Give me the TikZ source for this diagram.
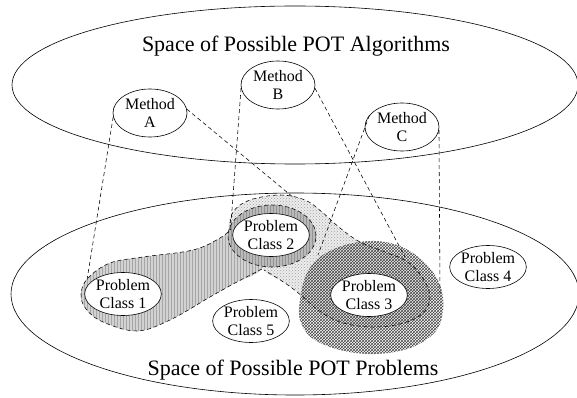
\documentclass[tikz,border=0pt]{standalone}
\usepackage{fontspec}
\setmainfont{Liberation Serif}
\usetikzlibrary{shapes.geometric,patterns}
\begin{document}
\begin{tikzpicture}[x=1pt,y=-1pt,
  outline/.style={draw=black,line width=0.6pt},
  dashline/.style={draw=black,line width=0.55pt,dash pattern=on 4pt off 3pt},
  methodnode/.style={ellipse,outline,fill=white,inner sep=0pt,minimum width=74pt,minimum height=48pt,align=center,font=\fontsize{16}{18}\selectfont},
  classnode/.style={ellipse,outline,fill=white,inner sep=0pt,minimum width=74pt,minimum height=43pt,align=center,font=\fontsize{16}{18}\selectfont},
  spacenode/.style={ellipse,outline,inner sep=0pt},
  titletext/.style={font=\fontsize{22}{24}\selectfont,inner sep=0pt}]
\useasboundingbox (0,0) rectangle (577,398);

% the two spaces
\node[spacenode,minimum width=566pt,minimum height=158pt] (alg) at (295,85) {};
\node[spacenode,minimum width=568pt,minimum height=202pt] (prob) at (295,294) {};
\node[titletext,anchor=base] (algtitle) at (296,52) {Space of Possible POT Algorithms};
\node[titletext,anchor=base] (probtitle) at (293,375) {Space of Possible POT Problems};

% region of method B (stipple)
\fill[gray!14] plot[smooth cycle,tension=0.6] coordinates {(230,232) (233,212) (250,200) (280,195) (305,200) (322,212) (340,228) (360,242) (385,252) (408,262) (424,280) (430,298) (422,314) (400,324) (370,327) (340,322) (318,310) (302,296) (285,283) (264,270) (255,245)};
\fill[pattern=crosshatch dots,pattern color=gray!75] plot[smooth cycle,tension=0.6] coordinates {(230,232) (233,212) (250,200) (280,195) (305,200) (322,212) (340,228) (360,242) (385,252) (408,262) (424,280) (430,298) (422,314) (400,324) (370,327) (340,322) (318,310) (302,296) (285,283) (264,270) (255,245)};

% region of method A (vertical lines)
\fill[gray!35] plot[smooth cycle,tension=0.6] coordinates {(81,294) (88,278) (110,263) (143,257) (193,250) (220,238) (235,230) (255,240) (262,268) (235,283) (210,297) (170,320) (137,331) (103,322) (86,309)};
\fill[pattern=vertical lines,pattern color=gray!70] plot[smooth cycle,tension=0.6] coordinates {(81,294) (88,278) (110,263) (143,257) (193,250) (220,238) (235,230) (255,240) (262,268) (235,283) (210,297) (170,320) (137,331) (103,322) (86,309)};
\fill[gray!55] (272,236) ellipse [x radius=44pt,y radius=31pt];
\fill[pattern=vertical lines,pattern color=gray!85] (272,236) ellipse [x radius=44pt,y radius=31pt];

% region of method C (crosshatch)
\fill[pattern=crosshatch,pattern color=gray!55!black] plot[smooth cycle,tension=0.6] coordinates {(300,300) (306,275) (320,257) (345,245) (375,241) (402,247) (425,263) (440,285) (443,310) (435,332) (410,348) (375,354) (340,350) (312,338) (300,320)};

% dashed outlines
\draw[dashline] plot[smooth,tension=0.6] coordinates {(262,269) (235,283) (210,297) (170,320) (137,331) (103,322) (86,309) (81,294) (88,278) (110,263) (143,257) (193,250) (220,238) (231,229)};
\draw[dashline] (272,236) ellipse [x radius=44pt,y radius=31pt];
\draw[dashline] plot[smooth,tension=0.6] coordinates {(230,230) (233,212) (250,200) (280,195) (305,200) (322,212) (340,228) (360,242) (385,252) (408,262) (424,280) (430,298) (422,314) (400,324) (370,327) (340,322) (318,310) (302,296) (285,283) (264,270)};

% methods
\node[methodnode] (mA) at (150,113) {Method\\A};
\node[methodnode] (mB) at (278,85) {Method\\B};
\node[methodnode] (mC) at (402,127) {Method\\C};

% problem classes
\node[classnode] (p1) at (123,294) {Problem\\Class 1};
\node[classnode] (p2) at (271,235) {Problem\\Class 2};
\node[classnode] (p3) at (369,295) {Problem\\Class 3};
\node[classnode] (p4) at (488,267) {Problem\\Class 4};
\node[classnode] (p5) at (251,321) {Problem\\Class 5};

% connector ends
\coordinate (a1) at (87,280);
\coordinate (a2) at (294,198);
\coordinate (b1) at (231,223);
\coordinate (b2) at (405,257);
\coordinate (c1) at (318,255);
\coordinate (c2) at (440,293);

\draw[dashline] (mA.186) -- (a1);
\draw[dashline] (mA.6) -- (a2);
\draw[dashline] (mB.185) -- (b1);
\draw[dashline] (mB.355) -- (b2);
\draw[dashline] (mC.160) -- (c1);
\draw[dashline] (mC.355) -- (c2);
\end{tikzpicture}
\end{document}
